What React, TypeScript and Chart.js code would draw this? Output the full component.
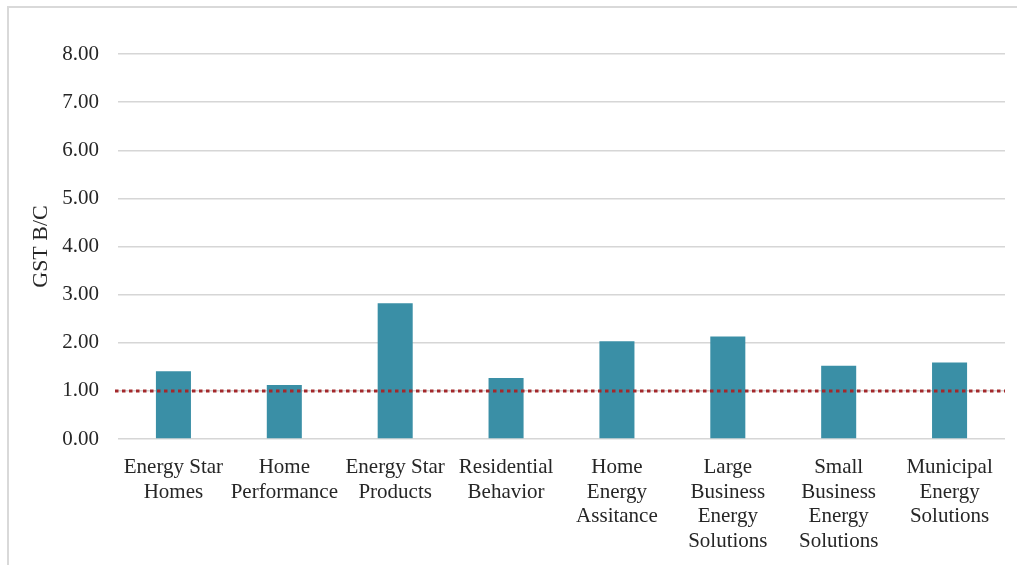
import React, { useEffect, useRef } from "react";
import { Chart, registerables } from "chart.js";

Chart.register(...registerables);

// Program categories (multi-line axis labels)
const categories: string[][] = [
  ["Energy Star", "Homes"],
  ["Home", "Performance"],
  ["Energy Star", "Products"],
  ["Residential", "Behavior"],
  ["Home", "Energy", "Assitance"],
  ["Large", "Business", "Energy", "Solutions"],
  ["Small", "Business", "Energy", "Solutions"],
  ["Municipal", "Energy", "Solutions"],
];

// GST benefit/cost ratio per program
const gstRatios: number[] = [1.41, 1.12, 2.82, 1.27, 2.03, 2.13, 1.52, 1.59];

// Break-even reference level
const breakEven = 1.0;

// Value axis range
const yMin = 0;
const yMax = 8;
const yStep = 1;

const SERIF = '"Liberation Serif", "Times New Roman", Times, serif';
const TEXT = "#262626";
const GRID = "#d6d6d6";
const BAR = "#3A8FA6";
const REF_LINE = "#A3282B";

const breakEvenLine = {
  id: "breakEvenLine",
  afterDatasetsDraw(chart: any) {
    const { ctx, chartArea, scales } = chart;
    const y = scales.y.getPixelForValue(breakEven);
    ctx.save();
    ctx.strokeStyle = REF_LINE;
    ctx.lineWidth = 3;
    ctx.lineCap = "butt";
    ctx.setLineDash([3.5, 3.5]);
    ctx.beginPath();
    ctx.moveTo(chartArea.left - 3, y);
    ctx.lineTo(chartArea.right, y);
    ctx.stroke();
    ctx.restore();
  },
};

export default function App() {
  const canvasRef = useRef<HTMLCanvasElement | null>(null);

  useEffect(() => {
    if (!canvasRef.current) return;
    const chart = new Chart(canvasRef.current, {
      type: "bar",
      data: {
        labels: categories,
        datasets: [
          {
            label: "GST B/C",
            data: gstRatios,
            backgroundColor: BAR,
            borderWidth: 0,
            categoryPercentage: 1,
            barPercentage: 0.316,
          },
        ],
      },
      options: {
        responsive: false,
        animation: false,
        layout: { padding: { top: 54, right: 12, bottom: 0, left: 0 } },
        plugins: {
          legend: { display: false },
          tooltip: { enabled: false },
        },
        scales: {
          x: {
            grid: { display: false },
            border: { display: false },
            ticks: {
              autoSkip: false,
              maxRotation: 0,
              minRotation: 0,
              padding: 8,
              color: TEXT,
              font: { family: SERIF, size: 21, lineHeight: 1.175 },
            },
            afterFit(scale: any) {
              scale.height = 126;
            },
          },
          y: {
            min: yMin,
            max: yMax,
            grid: { color: GRID, lineWidth: 1.5, drawTicks: false },
            border: { display: false },
            ticks: {
              stepSize: yStep,
              padding: 19,
              color: TEXT,
              font: { family: SERIF, size: 21 },
              callback: (v: any) => Number(v).toFixed(2),
            },
            title: {
              display: true,
              text: "GST B/C",
              color: TEXT,
              font: { family: SERIF, size: 22, lineHeight: 1.2 },
              padding: { top: 28, bottom: 0 },
            },
            afterFit(scale: any) {
              scale.width = 118;
            },
          },
        },
      },
      plugins: [breakEvenLine],
    });
    return () => chart.destroy();
  }, []);

  return (
    <div
      style={{
        position: "fixed",
        left: 0,
        top: 0,
        width: 1017,
        height: 565,
        overflow: "hidden",
        background: "#fff",
      }}
    >
      <div
        style={{
          position: "absolute",
          left: 7,
          top: 6,
          width: 1100,
          height: 700,
          border: "2px solid #d9d9d9",
        }}
      />
      <canvas
        ref={canvasRef}
        width={1017}
        height={565}
        style={{ position: "absolute", left: 0, top: 0, width: 1017, height: 565 }}
      />
    </div>
  );
}
